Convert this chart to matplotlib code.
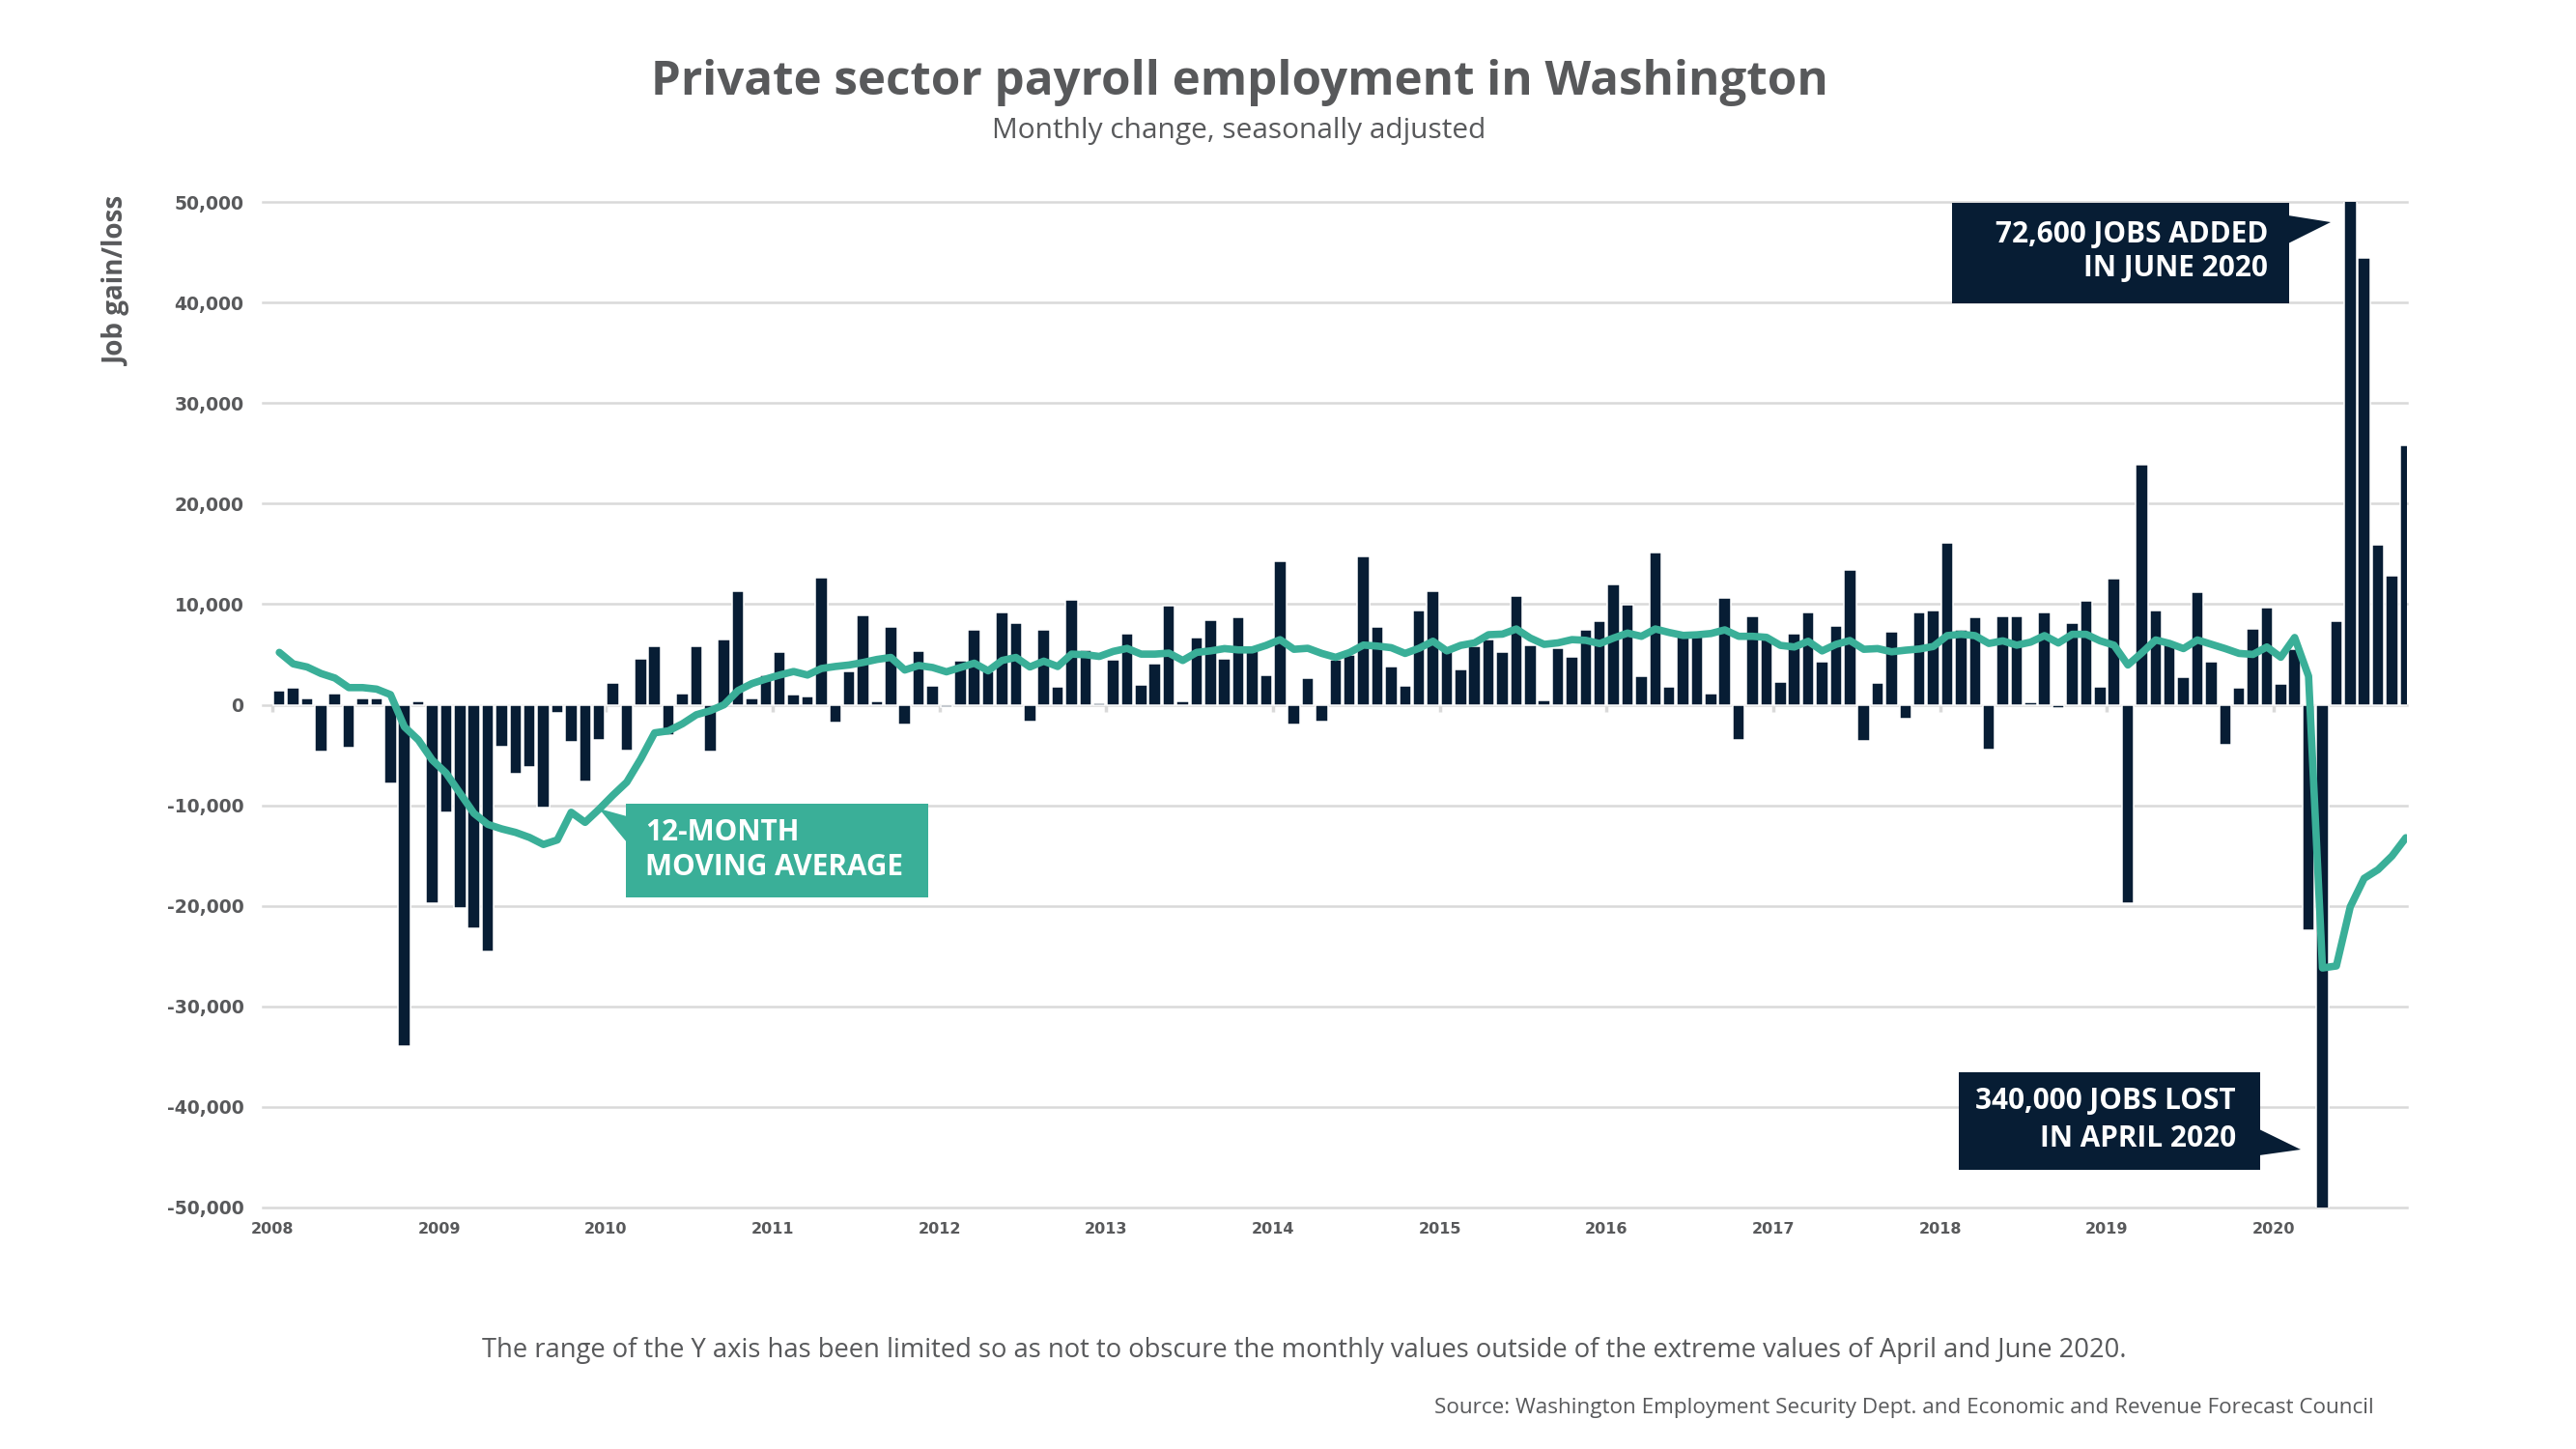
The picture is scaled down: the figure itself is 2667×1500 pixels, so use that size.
import matplotlib
matplotlib.use("Agg")
import matplotlib.pyplot as plt
from matplotlib.patches import Rectangle, Polygon
import numpy as np

plt.rcParams['font.family'] = ['Open Sans', 'DejaVu Sans']

# ---------------- data ----------------
start_year = 2008
year_labels = [2008, 2009, 2010, 2011, 2012, 2013, 2014, 2015, 2016, 2017, 2018, 2019, 2020]
y_ticks = [-50000, -40000, -30000, -20000, -10000, 0, 10000, 20000, 30000, 40000, 50000]

# Monthly change in private payroll employment, Jan 2008 - Oct 2020
monthly_change = [
    1400, 1700, 600, -4700, 1100, -4300, 600, 660, -7800, -34000, 300, -19700,          # 2008
    -10700, -20200, -22200, -24500, -4200, -6900, -6200, -10200, -800, -3700, -7600, -3500,  # 2009
    2200, -4600, 4600, 5850, -3000, 1150, 5850, -4700, 6500, 11300, 600, 2970,          # 2010
    5200, 1050, 770, 12650, -1800, 3350, 8900, 300, 7750, -2000, 5350, 1900,            # 2011
    -200, 4330, 7400, 3300, 9130, 8080, -1700, 7400, 1730, 10400, 5400, 100,            # 2012
    4500, 7100, 2000, 4040, 9800, 300, 6630, 8370, 4520, 8650, 5500, 2900,              # 2013
    14230, -2000, 2600, -1700, 4500, 4900, 14700, 7700, 3750, 1920, 9330, 11250,        # 2014
    5670, 3460, 5830, 6470, 5190, 10770, 5870, 480, 5580, 4800, 7400, 8270,             # 2015
    11920, 9900, 2880, 15100, 1730, 6800, 6800, 1060, 10580, -3460, 8750, 6500,         # 2016
    2210, 7020, 9130, 4230, 7790, 13360, -3560, 2120, 7210, -1350, 9130, 9400,          # 2017
    16100, 7470, 8710, -4500, 8800, 8800, 260, 9180, -300, 8110, 10340, 1800,           # 2018
    12530, -19740, 23900, 9400, 6000, 2750, 11200, 4290, -4030, 1690, 7560, 9650,       # 2019
    2090, 5500, -22400, -340000, 8300, 72600, 44400, 15860, 12820, 25840,               # 2020
]

# 12-month moving average
moving_average = [
    5200, 4060, 3750, 3100, 2650, 1700, 1700, 1550, 1000, -2200, -3500, -5500,         # 2008
    -6800, -8800, -10800, -11900, -12350, -12700, -13200, -13900, -13450, -10700, -11700, -10400,  # 2009
    -9000, -7700, -5400, -2800, -2600, -1900, -1000, -600, 0, 1400, 2100, 2550,         # 2010
    2950, 3300, 2950, 3600, 3800, 3950, 4200, 4500, 4700, 3450, 3900, 3700,             # 2011
    3270, 3700, 4130, 3370, 4400, 4700, 3750, 4330, 3800, 5030, 4970, 4800,             # 2012
    5300, 5600, 5030, 5030, 5130, 4400, 5200, 5350, 5580, 5450, 5450, 5900,             # 2013
    6470, 5510, 5610, 5100, 4710, 5190, 5930, 5830, 5670, 5100, 5610, 6310,             # 2014
    5350, 5900, 6150, 6960, 7020, 7530, 6630, 6000, 6150, 6470, 6400, 6080,             # 2015
    6630, 7120, 6800, 7530, 7180, 6890, 6950, 7080, 7440, 6800, 6800, 6700,             # 2016
    5900, 5740, 6310, 5350, 6000, 6380, 5510, 5580, 5260, 5420, 5540, 5790,             # 2017
    6870, 7000, 6870, 6090, 6350, 5920, 6220, 6870, 6140, 7000, 7000, 6350,             # 2018
    5920, 3950, 5150, 6440, 6090, 5580, 6440, 6010, 5580, 5100, 5000, 5740,             # 2019
    4720, 6680, 2830, -26180, -25980, -20100, -17270, -16400, -15050, -13230,           # 2020
]

title = "Private sector payroll employment in Washington"
subtitle = "Monthly change, seasonally adjusted"
y_label = "Job gain/loss"
footnote = ("The range of the Y axis has been limited so as not to obscure the monthly "
            "values outside of the extreme values of April and June 2020.")
source = "Source: Washington Employment Security Dept. and Economic and Revenue Forecast Council"
ma_label = ["12-MONTH", "MOVING AVERAGE"]
june_label = ["72,600 JOBS ADDED", "IN JUNE 2020"]
april_label = ["340,000 JOBS LOST", "IN APRIL 2020"]

# ---------------- style ----------------
NAVY = "#071d34"
TEAL = "#3aaf98"
GRID = "#d9d9d9"
TEXT = "#58595b"

W, H = 2667, 1500
fig = plt.figure(figsize=(W / 100, H / 100), dpi=100)
fig.patch.set_facecolor("white")


def fx(px):
    return px / W


def fy(py):
    return 1 - py / H


ax = fig.add_axes([fx(272), fy(1250), fx(2492) - fx(272), fy(209) - fy(1250)])
n = len(monthly_change)
months = start_year + (np.arange(n) + 0.5) / 12

ax.bar(months, monthly_change, width=0.87 / 12, color=NAVY,
       edgecolor="white", linewidth=1.1, zorder=2)
ax.plot(months, moving_average, color=TEAL, lw=5.5, solid_capstyle="round",
        solid_joinstyle="round", zorder=3)

ax.set_xlim(start_year - 10 / 172.7, start_year + 154 / 12 - 0.035)
ax.set_ylim(-50000, 50000)
ax.set_yticks(y_ticks)
ax.set_yticklabels([f"{v:,.0f}" for v in y_ticks])
ax.set_xticks(year_labels)
ax.set_xticklabels([str(y) for y in year_labels])
ax.yaxis.grid(True, color=GRID, lw=1.8, zorder=0)
ax.set_axisbelow(True)
for gl in ax.yaxis.get_gridlines():
    gl.set_clip_on(False)
ax.vlines(year_labels, -700, 0, color=GRID, lw=2.5, zorder=1)
for s in ax.spines.values():
    s.set_visible(False)
ax.tick_params(axis="both", length=0)
ax.tick_params(axis="y", pad=14)
ax.tick_params(axis="x", pad=11)
for lab in ax.get_yticklabels():
    lab.set_fontfamily("DejaVu Sans")
    lab.set_fontweight("bold")
    lab.set_fontsize(13.5)
    lab.set_color(TEXT)
for lab in ax.get_xticklabels():
    lab.set_fontfamily("DejaVu Sans")
    lab.set_fontweight("bold")
    lab.set_fontsize(11.5)
    lab.set_color(TEXT)

# ---------------- titles ----------------
fig.text(fx(1283), fy(86), title, ha="center", va="center", fontsize=35.5,
         fontweight="bold", color=TEXT)
fig.text(fx(1283), fy(136), subtitle, ha="center", va="center", fontsize=21.5,
         color=TEXT)
fig.text(fx(122), fy(204), y_label, ha="center", va="top", rotation=90,
         fontsize=20, fontweight="bold", color=TEXT)
fig.text(fx(1350), fy(1398), footnote, ha="center", va="center", fontsize=19.7,
         color=TEXT)
fig.text(fx(2458), fy(1458), source, ha="right", va="center", fontsize=16.2,
         color=TEXT)


# ---------------- annotation boxes ----------------
def box(x0, y0, x1, y1, color):
    fig.add_artist(Rectangle((fx(x0), fy(y1)), fx(x1) - fx(x0), fy(y0) - fy(y1),
                             transform=fig.transFigure, facecolor=color,
                             edgecolor="none", zorder=5))


def pointer(pts, color):
    fig.add_artist(Polygon([(fx(px), fy(py)) for px, py in pts], closed=True,
                           transform=fig.transFigure, facecolor=color,
                           edgecolor="none", zorder=5))


def label(px, py, s, ha):
    fig.text(fx(px), fy(py), s, ha=ha, va="center", fontsize=21.4,
             fontweight="bold", color="white", zorder=6)


# moving-average label
box(648, 832, 961, 929, TEAL)
pointer([(649, 845), (620, 837), (649, 872)], TEAL)
label(668, 862, ma_label[0], "left")
label(668, 898, ma_label[1], "left")

# June 2020 label
box(2021, 210, 2370, 314, NAVY)
pointer([(2369, 223), (2413, 230), (2369, 252)], NAVY)
label(2348, 243, june_label[0], "right")
label(2348, 278, june_label[1], "right")

# April 2020 label
box(2028, 1110, 2340, 1211, NAVY)
pointer([(2339, 1169), (2382, 1190), (2339, 1196)], NAVY)
label(2315, 1140, april_label[0], "right")
label(2315, 1179, april_label[1], "right")

fig.savefig("out.png", dpi=100, facecolor="white")
